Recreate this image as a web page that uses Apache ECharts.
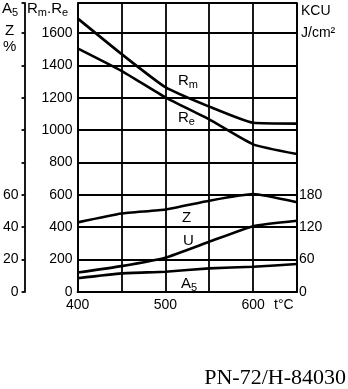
<!DOCTYPE html>
<html><head><meta charset="utf-8">
<script src="https://cdn.jsdelivr.net/npm/echarts@6/dist/echarts.min.js"></script>
<style>html,body{margin:0;padding:0;background:#fff}#c{width:348px;height:389px}</style>
</head><body><div id="c"></div>
<script>
var temps = [400, 450, 500, 550, 600, 650];
var Rm = [1690, 1470, 1265, 1145, 1045, 1040];
var Re = [1505, 1366, 1202, 1066, 912, 852];
var Z = [43, 48.5, 51, 56.4, 60.5, 55.4];
var U = [36, 48, 63.5, 93, 122, 132];
var A5 = [8.5, 11.5, 12.5, 14.6, 15.6, 17.3];
var xLabels = [400, 500, 600];
var mainLabels = [0, 200, 400, 600, 800, 1000, 1200, 1400, 1600];
var kcuLabels = [0, 60, 120, 180];
var pctLabels = [0, 20, 40, 60];

function pairs(ys) { return temps.map(function (t, i) { return [t, ys[i]]; }); }
var F = 'Liberation Sans, Arial, sans-serif';
var chart = echarts.init(document.getElementById('c'));
var lineStyle = { color: '#000', width: 2.6 };
var gl = { color: '#000', width: 1.8 };
function ser(name, ys, yi) {
  return { name: name, type: 'line', data: pairs(ys), yAxisIndex: yi, symbol: 'none',
    lineStyle: lineStyle, smooth: 0.15, animation: false };
}
chart.setOption({
  backgroundColor: '#fff',
  animation: false,
  grid: { left: 75, right: 51, top: 3, bottom: 97, containLabel: false },
  xAxis: {
    type: 'value', min: 400, max: 650, interval: 50,
    axisLine: { show: true, lineStyle: gl },
    axisTick: { show: false },
    splitLine: { show: true, lineStyle: gl },
    axisLabel: { color: '#000', fontFamily: F, fontSize: 14, margin: 6,
      formatter: function (v) { return xLabels.indexOf(v) >= 0 ? String(v) : ''; } }
  },
  yAxis: [
    { type: 'value', min: 0, max: 1785, interval: 200, position: 'left',
      axisLine: { show: true, lineStyle: gl },
      axisTick: { show: false },
      splitLine: { show: true, lineStyle: gl },
      axisLabel: { color: '#000', fontFamily: F, fontSize: 14, margin: 5,
        formatter: function (v) { return mainLabels.indexOf(v) >= 0 ? String(v) : ''; } } },
    { type: 'value', min: 0, max: 535.5, interval: 60, position: 'right',
      axisLine: { show: true, lineStyle: gl },
      axisTick: { show: false }, splitLine: { show: false },
      axisLabel: { color: '#000', fontFamily: F, fontSize: 14, margin: 2,
        formatter: function (v) { return kcuLabels.indexOf(v) >= 0 ? String(v) : ''; } } },
    { type: 'value', min: 0, max: 178.5, interval: 20, position: 'left', offset: 53,
      axisLine: { show: true, lineStyle: gl },
      axisTick: { show: true, length: 3, lineStyle: gl },
      splitLine: { show: false },
      axisLabel: { color: '#000', fontFamily: F, fontSize: 14, margin: 6,
        formatter: function (v) { return pctLabels.indexOf(v) >= 0 ? String(v) : ''; } } }
  ],
  series: [ser('Rm', Rm, 0), ser('Re', Re, 0), ser('Z', Z, 2), ser('U', U, 1), ser('A5', A5, 2)],
  graphic: (function () {
    var rich = { b: { fontFamily: F, fontSize: 15, fill: '#000' }, s: { fontFamily: F, fontSize: 11, fill: '#000', padding: [8, 0, 0, 0] } };
    function t(x, y, text, size) {
      return { type: 'text', left: x, top: y, silent: true,
        style: { text: text, fontFamily: F, fontSize: size || 14, fill: '#000', rich: rich } };
    }
    return [
      t(2, 1, '{b|A}{s|5}'),
      t(5, 23, '{b|Z}'),
      t(3, 39, '{b|%}'),
      t(27, 1, '{b|R}{s|m}{b|.R}{s|e}'),
      t(301, 4, 'KCU'),
      t(301, 26, 'J/cm²'),
      t(178, 73, '{b|R}{s|m}'),
      t(178, 110, '{b|R}{s|e}'),
      t(182, 210, '{b|Z}'),
      t(183, 233, '{b|U}'),
      t(181, 276, '{b|A}{s|5}'),
      t(274, 298, 't°C'),
      { type: 'text', right: 2, top: 367, silent: true,
        style: { text: 'PN-72/H-84030', fontFamily: 'Liberation Serif, Times New Roman, serif', fontSize: 22, fill: '#000' } }
    ];
  })()
});
</script></body></html>
